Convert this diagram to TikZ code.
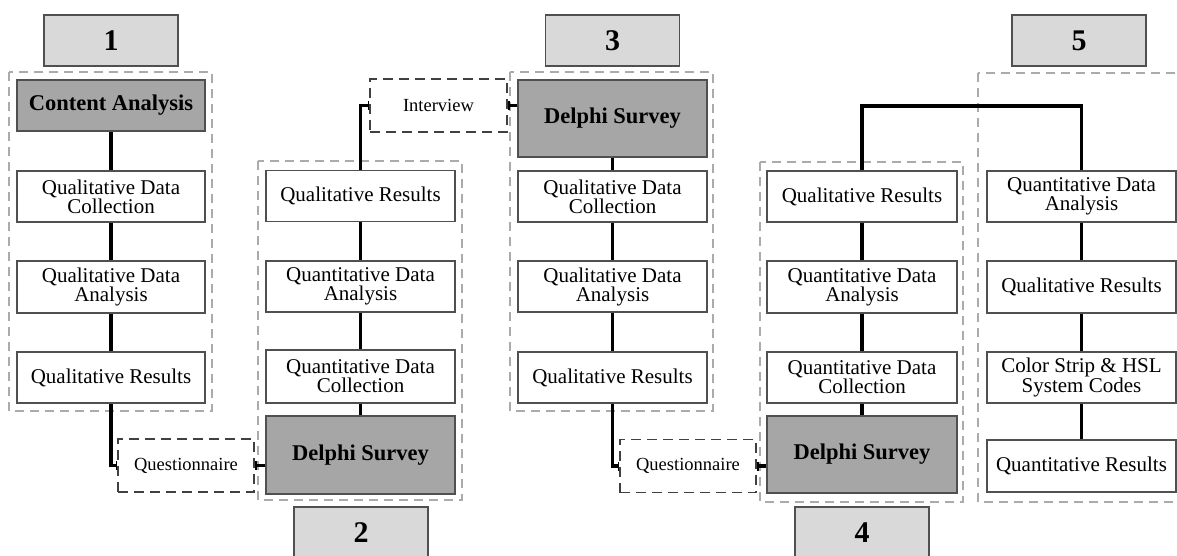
\documentclass[tikz,border=0pt]{standalone}
\usepackage{fontspec}
\setmainfont{Liberation Serif}
\usetikzlibrary{arrows.meta}
\definecolor{boxline}{HTML}{505050}
\definecolor{lblfill}{HTML}{D9D9D9}
\definecolor{darkfill}{HTML}{A6A6A6}
\definecolor{grpline}{HTML}{ABABAB}
\definecolor{methline}{HTML}{404040}
\tikzset{
  stagebox/.style={draw=boxline, line width=1.5pt, fill=white, minimum width=189pt, minimum height=51pt, inner sep=2pt, align=center, font=\fontsize{21}{17.5}\selectfont},
  mainbox/.style={stagebox, fill=darkfill, font=\fontsize{22.5}{22}\selectfont\bfseries},
  lblbox/.style={draw=boxline, line width=1.5pt, fill=lblfill, minimum width=134pt, minimum height=51pt, font=\fontsize{30}{30}\selectfont\bfseries},
  grp/.style={draw=grpline, line width=1.3pt, dash pattern=on 9pt off 6pt},
  methbox/.style={draw=methline, line width=1.8pt, dash pattern=on 10pt off 6pt, fill=white, minimum width=136pt, minimum height=53pt, font=\fontsize{18.5}{18}\selectfont},
  link/.style={line width=3.2pt, black},
  tickend/.style={-{Bar[width=9pt,line width=1.6pt]}},
  tickstart/.style={{Bar[width=9pt,line width=1.6pt]}-},
}
\begin{document}
\begin{tikzpicture}[x=1pt,y=-1pt]
\useasboundingbox (0,0) rectangle (1177,555);
\begin{scope}
\clip (0,0) rectangle (1177,555);
% groups
\draw[grp] (9,72) rectangle (212,411);
\draw[grp] (258,161) rectangle (462,500);
\draw[grp] (510,72) rectangle (713,411);
\draw[grp] (760,162) rectangle (963,502);
\draw[grp] (978,73) rectangle (1195,502);
% labels
\node[lblbox] (l1) at (111,40.5) {1};
\node[lblbox] (l3) at (612.5,40.5) {3};
\node[lblbox] (l5) at (1079,40.5) {5};
\node[lblbox] (l2) at (361,532.5) {2};
\node[lblbox] (l4) at (862,532.5) {4};
% column 1
\node[mainbox, minimum width=188pt] (a1) at (111,105.5) {Content Analysis};
\node[stagebox, minimum width=188pt] (a2) at (111,196.5) {Qualitative Data\\Collection};
\node[stagebox, minimum width=188pt, minimum height=52pt] (a3) at (111,287) {Qualitative Data\\Analysis};
\node[stagebox, minimum width=188pt] (a4) at (111,377.5) {Qualitative Results};
% column 2
\node[stagebox] (b1) at (360.5,196) {Qualitative Results};
\node[stagebox] (b2) at (360.5,286.5) {Quantitative Data\\Analysis};
\node[stagebox, minimum height=53pt] (b3) at (360.5,376.5) {Quantitative Data\\Collection};
\node[mainbox, minimum height=78pt] (b4) at (360.5,455) {Delphi Survey};
% column 3
\node[mainbox, minimum height=77pt] (c1) at (612.5,118.5) {Delphi Survey};
\node[stagebox] (c2) at (612.5,196.5) {Qualitative Data\\Collection};
\node[stagebox] (c3) at (612.5,286.5) {Qualitative Data\\Analysis};
\node[stagebox] (c4) at (612.5,377.5) {Qualitative Results};
% column 4
\node[stagebox, minimum width=190pt] (d1) at (862,196.5) {Qualitative Results};
\node[stagebox, minimum width=190pt, minimum height=52pt] (d2) at (862,287) {Quantitative Data\\Analysis};
\node[stagebox, minimum width=190pt] (d3) at (862,377.5) {Quantitative Data\\Collection};
\node[mainbox, minimum width=190pt, minimum height=77pt] (d4) at (862,454.5) {Delphi Survey};
% column 5
\node[stagebox] (e1) at (1081.5,196.5) {Quantitative Data\\Analysis};
\node[stagebox, minimum height=52pt] (e2) at (1081.5,287) {Qualitative Results};
\node[stagebox] (e3) at (1081.5,377.5) {Color Strip \& HSL\\System Codes};
\node[stagebox, minimum height=52pt] (e4) at (1081.5,466) {Quantitative Results};
% method boxes
\node[methbox] (q1) at (186,465.5) {Questionnaire};
\node[methbox] (q2) at (688,466) {Questionnaire};
\node[methbox, minimum width=137pt] (iv) at (438.5,105.5) {Interview};
% vertical links
\draw[link] (a1) -- (a2);
\draw[link] (a2) -- (a3);
\draw[link] (a3) -- (a4);
\draw[link] (b1) -- (b2);
\draw[link] (b2) -- (b3);
\draw[link] (b3) -- (b4);
\draw[link] (c1) -- (c2);
\draw[link] (c2) -- (c3);
\draw[link] (c3) -- (c4);
\draw[link] (d1) -- (d2);
\draw[link] (d2) -- (d3);
\draw[link] (d3) -- (d4);
\draw[link] (e1) -- (e2);
\draw[link] (e2) -- (e3);
\draw[link] (e3) -- (e4);
% method links
\draw[link, tickend] (a4.south) |- (q1.west);
\draw[link, tickstart] (q1.east) -- (q1.east -| b4.west);
\draw[link, tickend] (c4.south) |- (q2.west);
\draw[link, tickstart] (q2.east) -- (q2.east -| d4.west);
\draw[link, tickend] (b1.north) |- (iv.west);
\draw[link, tickstart] (iv.east) -- (iv.east -| c1.west);
\coordinate (top) at (0,106);
\draw[link] (d1.north) -- (d1.north |- top) -| (e1.north);
\end{scope}
\end{tikzpicture}
\end{document}
